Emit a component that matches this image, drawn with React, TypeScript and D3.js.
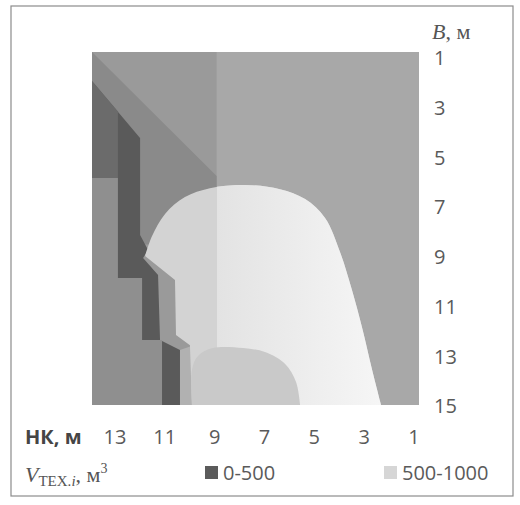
import React from "react";
import * as d3 from "d3";

// ---- axis data ----
const NK_TICKS = [13, 11, 9, 7, 5, 3, 1];
const B_TICKS = [1, 3, 5, 7, 9, 11, 13, 15];
const NK_EXTENT: [number, number] = [13.92, 0.8];
const B_EXTENT: [number, number] = [0.75, 14.96];

// ---- legend ----
const LEGEND_LABELS = ["0-500", "500-1000"];
const LEGEND_COLORS = ["#5b5b5b", "#d6d6d6"];

// ---- iso-band outlines of V(НК, B) read from the surface, in (НК, B) units ----
const LEFT_ZONE: [number, number][] = [[13.92, 0.75], [8.92, 0.75], [8.92, 14.96], [13.92, 14.96]];
const MID_BAND: [number, number][] = [[13.92, 0.75], [8.92, 5.74], [8.92, 8.5], [11.99, 8.5], [11.99, 4.21], [13.92, 1.92]];
const DARK_BAND: [number, number][] = [
  [13.92, 1.92], [11.99, 4.21], [11.99, 8.12], [11.67, 8.72], [11.87, 9.04], [11.27, 9.73],
  [11.19, 12.34], [10.39, 12.75], [10.39, 14.96], [13.92, 14.96],
];
const DARK_WEDGE: [number, number][] = [[13.92, 1.92], [12.88, 3.15], [12.88, 5.82], [13.92, 5.82]];
const LEFT_STRIP: [number, number][] = [
  [13.92, 5.82], [12.88, 5.82], [12.88, 9.85], [11.91, 9.85], [11.91, 12.34],
  [11.11, 12.34], [11.11, 14.96], [13.92, 14.96],
];
const LIGHT_STRIPE: [number, number][] = [[10.39, 12.75], [9.95, 12.6], [9.91, 14.96], [10.39, 14.96]];
const ARCH_CURVE: [number, number][] = [
  [11.79, 8.96], [11.51, 8.16], [10.99, 7.27], [10.19, 6.59], [9.19, 6.23], [7.78, 6.1],
  [6.38, 6.27], [5.37, 6.67], [4.57, 7.43], [3.97, 8.8], [3.49, 10.33], [3.09, 11.82],
  [2.68, 13.55], [2.32, 14.96],
];
const ARCH_BASE: [number, number][] = [[9.91, 14.96], [9.99, 12.55], [10.55, 12.14], [10.59, 9.93], [11.19, 9.45]];
const WHITE_FROM_NK = 8.9;
const BOTTOM_ARCH: [number, number][] = [
  [9.91, 14.96], [9.91, 13.55], [9.67, 12.99], [9.07, 12.67], [7.86, 12.67], [6.98, 12.83],
  [6.17, 13.31], [5.73, 14.04], [5.57, 14.96],
];

const W = 520;
const H = 505;

export default function App() {
  const x = d3.scaleLinear().domain(NK_EXTENT).range([92, 419]);
  const y = d3.scaleLinear().domain(B_EXTENT).range([52, 405]);

  const linear = d3.line<[number, number]>().x((d) => x(d[0])).y((d) => y(d[1])).curve(d3.curveLinearClosed);
  const openLinear = d3.line<[number, number]>().x((d) => x(d[0])).y((d) => y(d[1])).curve(d3.curveLinear);
  const smooth = d3.line<[number, number]>().x((d) => x(d[0])).y((d) => y(d[1])).curve(d3.curveCatmullRom.alpha(0.5));

  const archD = (smooth(ARCH_CURVE) || "") + (openLinear(ARCH_BASE) || "").replace(/^M/, "L") + "Z";
  const bottomArchD = (smooth(BOTTOM_ARCH) || "") + "Z";

  const px0 = x(NK_EXTENT[0]);
  const px1 = x(NK_EXTENT[1]);
  const py0 = y(B_EXTENT[0]);
  const py1 = y(B_EXTENT[1]);
  const sans = "'Open Sans', 'DejaVu Sans', sans-serif";
  const serif = "'Liberation Serif', 'DejaVu Serif', serif";

  return (
    <svg width={W} height={H} style={{ position: "absolute", left: 0, top: 0, background: "#fff" }}>
      <defs>
        <clipPath id="plotClip">
          <rect x={px0} y={py0} width={px1 - px0} height={py1 - py0} />
        </clipPath>
        <clipPath id="whiteClip">
          <rect x={x(WHITE_FROM_NK)} y={py0} width={px1 - x(WHITE_FROM_NK)} height={py1 - py0} />
        </clipPath>
        <linearGradient id="whiteGrad" gradientUnits="userSpaceOnUse" x1={x(WHITE_FROM_NK)} x2={x(2.3)} y1={0} y2={0}>
          <stop offset="0" stopColor="#e3e3e3" />
          <stop offset="1" stopColor="#f6f6f6" />
        </linearGradient>
      </defs>

      <rect x={11} y={6} width={502} height={490} fill="#fff" stroke="#8c8c8c" strokeWidth={1.2} />

      <g clipPath="url(#plotClip)">
        <rect x={px0} y={py0} width={px1 - px0} height={py1 - py0} fill="#a8a8a8" />
        <path d={linear(LEFT_ZONE) || ""} fill="#9a9a9a" />
        <path d={linear(MID_BAND) || ""} fill="#8a8a8a" />
        <path d={linear(DARK_BAND) || ""} fill="#5a5a5a" />
        <path d={linear(DARK_WEDGE) || ""} fill="#6b6b6b" />
        <path d={linear(LEFT_STRIP) || ""} fill="#8f8f8f" />
        <path d={linear(LIGHT_STRIPE) || ""} fill="#b1b1b1" />
        <path d={archD} fill="#d3d3d3" />
        <path d={archD} fill="url(#whiteGrad)" clipPath="url(#whiteClip)" />
        <path d={bottomArchD} fill="#c9c9c9" />
      </g>

      {/* B axis (right) */}
      <text x={432} y={39} fontFamily={serif} fontSize={22} fill="#555">
        <tspan fontStyle="italic">B</tspan>
        <tspan>, м</tspan>
      </text>
      {B_TICKS.map((b) => (
        <text key={"b" + b} x={434} y={y(b)} dy="0.36em" fontFamily={sans} fontSize={20} fill="#5a5a5a">
          {b}
        </text>
      ))}

      {/* НК axis (bottom) */}
      <text x={25} y={437} dy="0.36em" fontFamily={sans} fontSize={20} fontWeight="bold" fill="#454545">
        НК, м
      </text>
      {NK_TICKS.map((n) => (
        <text key={"n" + n} x={x(n)} y={437} dy="0.36em" textAnchor="middle" fontFamily={sans} fontSize={20} fill="#5a5a5a">
          {n}
        </text>
      ))}

      {/* legend */}
      <text x={25} y={482} fontFamily={serif} fontSize={22} fill="#555">
        <tspan fontStyle="italic">V</tspan>
        <tspan fontSize={15} dy={4}>TEX.</tspan>
        <tspan fontSize={15} fontStyle="italic">i</tspan>
        <tspan dy={-4}>, м</tspan>
        <tspan fontSize={14} dy={-9}>3</tspan>
      </text>
      {LEGEND_LABELS.map((lab, i) => {
        const lx = i === 0 ? 205 : 384;
        return (
          <g key={lab}>
            <rect x={lx} y={466} width={13} height={13} fill={LEGEND_COLORS[i]} />
            <text x={lx + 18} y={473} dy="0.36em" fontFamily={sans} fontSize={20} fill="#5a5a5a">
              {lab}
            </text>
          </g>
        );
      })}
    </svg>
  );
}
